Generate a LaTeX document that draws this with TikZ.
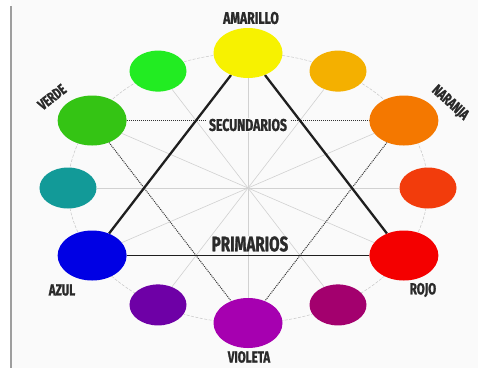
\documentclass[tikz,border=0pt]{standalone}
\usepackage{fontspec}
\usepackage{tikz}
\usetikzlibrary{shapes.geometric,positioning}
\newfontfamily\rotulo{Fira Sans}[FakeStretch=0.72,BoldFeatures={FakeBold=1.2}]
\definecolor{fondo}{HTML}{FAFAFA}
\definecolor{tinta}{HTML}{2A2A2A}
\definecolor{cAmarillo}{HTML}{F7F200}
\definecolor{cAmbar}{HTML}{F4B000}
\definecolor{cNaranja}{HTML}{F47800}
\definecolor{cRojonar}{HTML}{F23C0C}
\definecolor{cRojo}{HTML}{F40000}
\definecolor{cMagenta}{HTML}{A3006E}
\definecolor{cVioleta}{HTML}{A600B0}
\definecolor{cMorado}{HTML}{6E00A6}
\definecolor{cAzul}{HTML}{0000E4}
\definecolor{cTurquesa}{HTML}{129A98}
\definecolor{cVerde}{HTML}{34C414}
\definecolor{cLima}{HTML}{22EC22}
\pgfdeclarelayer{background}
\pgfsetlayers{background,main}

\begin{document}
\begin{tikzpicture}[x=1pt,y=1pt,
    grande/.style={ellipse,minimum width=69pt,minimum height=50pt,inner sep=0pt},
    chico/.style={ellipse,minimum width=57pt,minimum height=41pt,inner sep=0pt},
    rayo/.style={draw=black!18,line width=0.6pt},
    guia/.style={draw=black!22,line width=0.5pt,dash pattern=on 3pt off 1.5pt},
    prim/.style={draw=black!88,line width=2.3pt},
    secu/.style={draw=black!80,line width=1pt,dash pattern=on 1pt off 1pt},
    etiq/.style={text=tinta,font=\rotulo\bfseries,inner sep=1pt}]
            \useasboundingbox (-248,-180) rectangle (230,188);

            \coordinate (c) at (0,0);

            \node[grande,fill=cAmarillo] (amarillo) at (90:180 and 135) {};
            \node[chico,fill=cAmbar] (ambar) at (60:180 and 135) {};
            \node[grande,fill=cNaranja] (naranja) at (30:180 and 135) {};
            \node[chico,fill=cRojonar] (rojonar) at (0:180 and 135) {};
            \node[grande,fill=cRojo] (rojo) at (-30:180 and 135) {};
            \node[chico,fill=cMagenta] (magenta) at (-60:180 and 135) {};
            \node[grande,fill=cVioleta] (violeta) at (-90:180 and 135) {};
            \node[chico,fill=cMorado] (morado) at (-120:180 and 135) {};
            \node[grande,fill=cAzul] (azul) at (-150:180 and 135) {};
            \node[chico,fill=cTurquesa] (turquesa) at (180:180 and 135) {};
            \node[grande,fill=cVerde] (verde) at (150:180 and 135) {};
            \node[chico,fill=cLima] (lima) at (120:180 and 135) {};

            \begin{pgfonlayer}{background}
            \fill[white] (-248,-180) rectangle (-237,188);
            \fill[fondo] (-237,-180) rectangle (230,188);
            \draw[black!38,line width=1.2pt] (-237,182) -- (-237,-180);

            \draw[guia] (c) ellipse (180 and 135);
            \draw[rayo] (c) -- (amarillo);
            \draw[rayo] (c) -- (ambar);
            \draw[rayo] (c) -- (naranja);
            \draw[rayo] (c) -- (rojonar);
            \draw[rayo] (c) -- (rojo);
            \draw[rayo] (c) -- (magenta);
            \draw[rayo] (c) -- (violeta);
            \draw[rayo] (c) -- (morado);
            \draw[rayo] (c) -- (azul);
            \draw[rayo] (c) -- (turquesa);
            \draw[rayo] (c) -- (verde);
            \draw[rayo] (c) -- (lima);

            \draw[secu] (verde) -- (naranja);
            \draw[secu] (verde) -- (violeta);
            \draw[secu] (naranja) -- (violeta);

            \node[etiq,fill=fondo,font=\rotulo\bfseries\fontsize{17}{17}\selectfont,inner xsep=3pt] (secundarios) at (0,63) {SECUNDARIOS};
            \node[etiq,fill=fondo,font=\rotulo\bfseries\fontsize{21}{21}\selectfont,inner ysep=0pt] (primarios) at (2,-56) {PRIMARIOS};

            \draw[prim] (amarillo) -- (rojo);
            \draw[prim] (amarillo) -- (azul);
            \draw[prim,line width=1.9pt] (azul) -- (rojo);
            \end{pgfonlayer}

            \node[etiq,font=\rotulo\bfseries\fontsize{17}{17}\selectfont] at (3,170) {AMARILLO};
            \node[etiq,font=\rotulo\bfseries\fontsize{15}{15}\selectfont,rotate=38] at (-196,91) {VERDE};
            \node[etiq,font=\rotulo\bfseries\fontsize{15}{15}\selectfont,rotate=-42] at (202,85) {NARANJA};
            \node[etiq,font=\rotulo\bfseries\fontsize{16}{16}\selectfont] at (-186,-102) {AZUL};
            \node[etiq,font=\rotulo\bfseries\fontsize{16}{16}\selectfont] at (175,-102) {ROJO};
            \node[etiq,font=\rotulo\bfseries\fontsize{16}{16}\selectfont] at (1,-169) {VIOLETA};
        \end{tikzpicture}
\end{document}
